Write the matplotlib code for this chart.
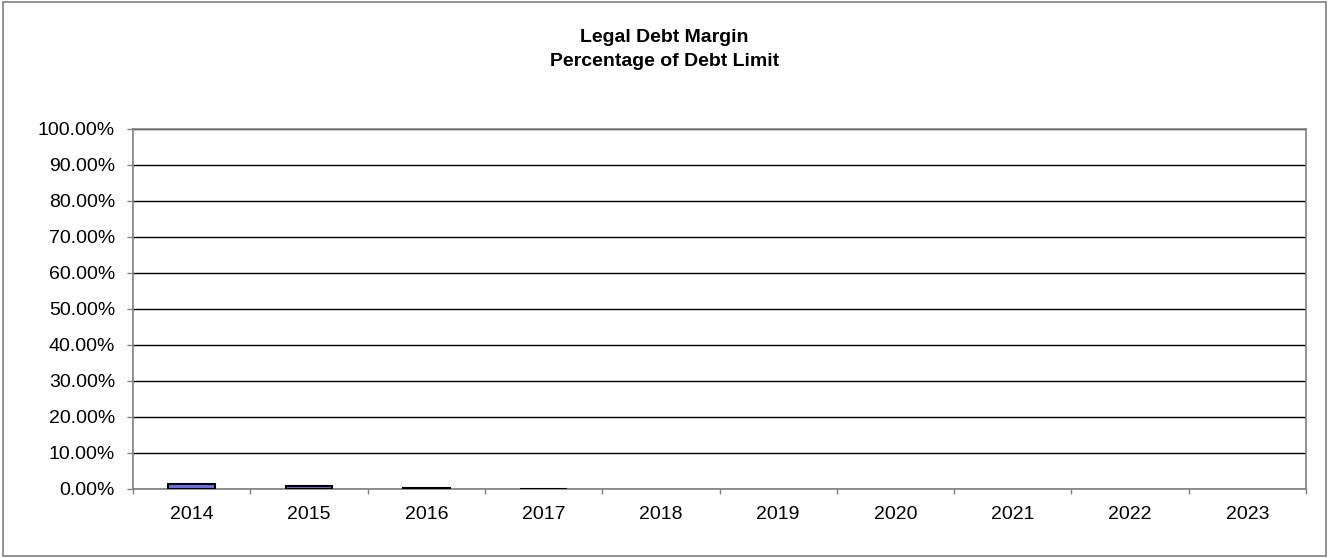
import matplotlib.pyplot as plt
from matplotlib.patches import Rectangle
from matplotlib.ticker import FuncFormatter, MultipleLocator

# fiscal years and debt as a percentage of the legal limit
years = ['2014', '2015', '2016', '2017', '2018', '2019', '2020', '2021', '2022', '2023']
pct_of_limit = [1.3, 0.7, 0.35, 0.1, 0, 0, 0, 0, 0, 0]

plt.rcParams['font.family'] = ['Liberation Sans', 'DejaVu Sans']

fig = plt.figure(figsize=(13.29, 5.58), dpi=100)
ax = fig.add_axes([0.1001, 0.1237, 0.8826, 0.6452])

x = list(range(len(years)))
edges = ['black' if v > 0 else 'none' for v in pct_of_limit]
ax.bar(x, pct_of_limit, width=0.4, color='#6f6fe6', edgecolor=edges,
       linewidth=1.5, zorder=3)

ax.set_xlim(-0.5, len(years) - 0.5)
ax.set_ylim(0, 100)
ax.yaxis.set_major_locator(MultipleLocator(10))
ax.yaxis.set_major_formatter(FuncFormatter(lambda v, p: '{:.2f}%'.format(v)))
ax.grid(axis='y', color='black', linewidth=1.0, zorder=1)

ax.set_xticks(x)
ax.set_xticklabels(years)
ax.set_xticks([i - 0.5 for i in range(len(years) + 1)], minor=True)
ax.tick_params(axis='x', which='major', length=0, pad=12, labelsize=14)
ax.tick_params(axis='x', which='minor', length=3.8, color='#808080', width=1)
ax.tick_params(axis='y', length=4.3, color='#808080', width=1, pad=8.6, labelsize=14)

for s in ax.spines.values():
    s.set_color('#808080')
    s.set_linewidth(1.2)

fig.text(0.5, 0.911, 'Legal Debt Margin\nPercentage of Debt Limit',
         ha='center', va='center', fontsize=14, fontweight='bold', linespacing=1.55)

# chart area border
fig.patches.append(Rectangle((0.002, 0.003), 0.996, 0.993, transform=fig.transFigure,
                             fill=False, edgecolor='#808080', linewidth=1.2))

fig.savefig('out.png', dpi=100)
